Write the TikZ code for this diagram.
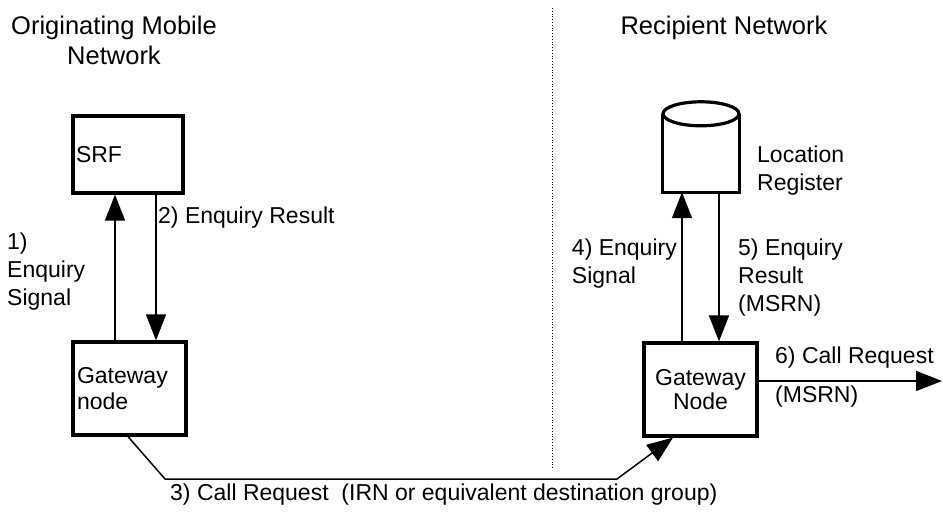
\documentclass[tikz,border=0pt]{standalone}
\usepackage{fontspec}
\setmainfont{Liberation Sans}
\usetikzlibrary{arrows.meta,calc}
\begin{document}
\begin{tikzpicture}[x=1pt,y=-1pt,
  box/.style={draw,line width=3.2pt,inner sep=0pt},
  arr/.style={line width=1.5pt,-{Triangle[length=26pt,width=20pt]}},
  lbl/.style={font=\fontsize{23}{28}\selectfont,align=left,inner sep=0pt},
  ttl/.style={font=\fontsize{25.5}{30}\selectfont,align=center,inner sep=0pt}]
\useasboundingbox (0,0) rectangle (943,513);
% titles
\node[ttl] (t1) at (114,40) {Originating Mobile\\Network};
\node[ttl] (t2) at (724,28) {Recipient Network};
% divider
\coordinate (dtop) at (552,8);
\coordinate (dbot) at (552,470);
\draw[dotted,line width=0.8pt] (dtop) -- (dbot);
% SRF
\node[box,minimum width=110pt,minimum height=77pt,text width=104pt,inner xsep=3pt,align=left,font=\fontsize{23}{28}\selectfont] (srf) at (128,154.5) {SRF};
% Gateway node (left)
\node[box,minimum width=113pt,minimum height=93pt,text width=105pt,inner xsep=4pt,align=left,font=\fontsize{23}{26}\selectfont] (gw1) at (129.5,388.5) {Gateway\\node};
% Gateway Node (right)
\node[box,minimum width=113pt,minimum height=93pt,text width=105pt,inner xsep=4pt,align=center,font=\fontsize{23}{24}\selectfont] (gw2) at (700.5,389.5) {Gateway\\Node};
% Location register cylinder
\node[minimum width=76pt,minimum height=78pt,inner sep=0pt] (lr) at (701,153) {};
\draw[line width=3.2pt] (lr.north west) -- (lr.south west) -- (lr.south east) -- (lr.north east);
\draw[line width=3.2pt,fill=white] (lr.north) ellipse [x radius=38pt, y radius=12pt];
\node[lbl,anchor=north west] (lrl) at (757,146) {Location\\Register};
% arrows left
\draw[arr] ([xshift=-14.5pt]gw1.north) -- ([xshift=-13pt]srf.south);
\draw[arr] ([xshift=28pt]srf.south) -- ([xshift=26.5pt]gw1.north);
\node[lbl,anchor=north west] (l1) at (7,233) {1)\\Enquiry\\Signal};
\node[lbl,anchor=west] (l2) at (158,218) {2) Enquiry Result};
% call request
\coordinate (c1) at (165,479);
\coordinate (c2) at (617,479);
\draw[arr] ([xshift=-1.5pt]gw1.south) -- (c1) -- (c2) -- ([xshift=-27.5pt]gw2.south);
\node[lbl,anchor=west] (l3) at (170,495) {3) Call Request\ \ (IRN or equivalent destination group)};
% arrows right
\draw[arr] ([xshift=-18.5pt]gw2.north) -- ([xshift=-19pt]lr.south);
\draw[arr] ([xshift=18pt]lr.south) -- ([xshift=18.5pt]gw2.north);
\node[lbl,anchor=north east] (l4) at (677,239) {4) Enquiry\\Signal};
\node[lbl,anchor=north west] (l5) at (738,239) {5) Enquiry\\Result\\(MSRN)};
% call request out
\coordinate (out6) at (942,381);
\draw[arr] ([yshift=8.5pt]gw2.east) -- (out6);
\node[lbl,anchor=west] (l6a) at (775,358) {6) Call Request};
\node[lbl,anchor=west] (l6b) at (775,397) {(MSRN)};
\end{tikzpicture}
\end{document}
